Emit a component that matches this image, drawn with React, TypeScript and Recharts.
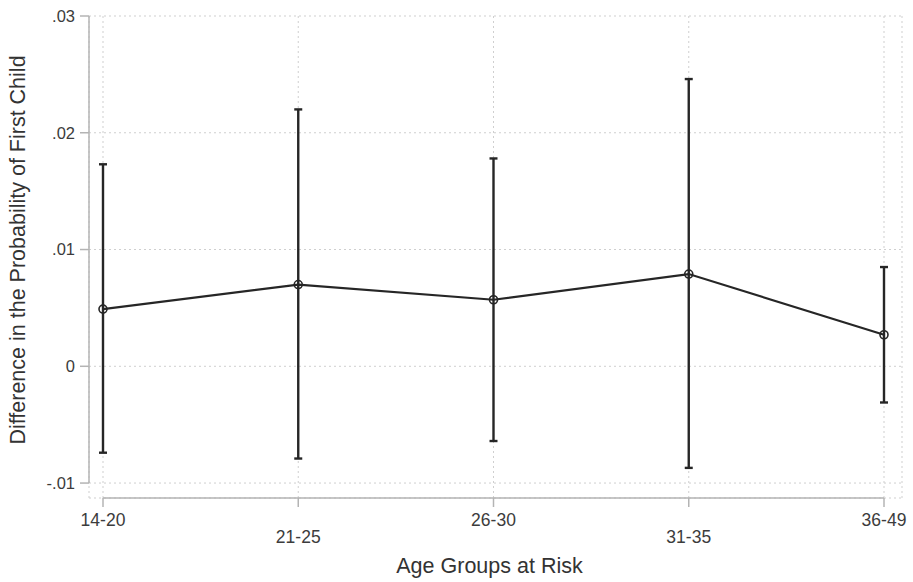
import React from 'react';
import { ComposedChart, Line, ErrorBar, XAxis, YAxis, CartesianGrid } from 'recharts';

const ageGroups = ['14-20', '21-25', '26-30', '31-35', '36-49'];
const estimates = [0.0049, 0.007, 0.0057, 0.0079, 0.0027];
const lowerBounds = [-0.0074, -0.0079, -0.0064, -0.0087, -0.0031];
const upperBounds = [0.0173, 0.022, 0.0178, 0.0246, 0.0085];
const yTicks = [-0.01, 0, 0.01, 0.02, 0.03];
const yTickLabels = ['-.01', '0', '.01', '.02', '.03'];

const data = ageGroups.map((group, i) => ({
  group,
  estimate: estimates[i],
  ci: [estimates[i] - lowerBounds[i], upperBounds[i] - estimates[i]],
}));

const FONT = '"Liberation Sans", Arial, sans-serif';
const AXIS_GRAY = '#b4b4b4';
const INK = '#262626';

function StaggeredTick(props: any) {
  const { x, y, payload, index } = props;
  const shift = index % 2 === 1 ? 17 : 0;
  return (
    <text x={x} y={y + shift} dy="0.71em" textAnchor="middle" fontSize={17.5} fill="#3c3c3c" fontFamily={FONT}>
      {payload.value}
    </text>
  );
}

export default function App() {
  return (
    <div style={{ position: 'absolute', left: 0, top: 0, width: 913, height: 582, background: '#fff' }}>
      <ComposedChart width={913} height={582} data={data} margin={{ top: 16, right: 11, bottom: 0, left: 0 }}>
        <CartesianGrid stroke="#cfcfcf" strokeDasharray="2 3" />
        <XAxis
          dataKey="group"
          scale="point"
          padding={{ left: 14, right: 18 }}
          height={84}
          axisLine={{ stroke: AXIS_GRAY, strokeWidth: 1.5, strokeDasharray: '0 14 781 200' }}
          tickLine={{ stroke: AXIS_GRAY, strokeWidth: 1.5 }}
          tickSize={9}
          tickMargin={7}
          interval={0}
          tick={<StaggeredTick />}
          label={{
            content: (p: any) => {
              const vb = p.viewBox;
              return (
                <text x={vb.x + vb.width / 2 - 6} y={vb.y + 75} textAnchor="middle" fontSize={21.5} fill="#333" fontFamily={FONT}>
                  Age Groups at Risk
                </text>
              );
            },
          }}
        />
        <YAxis
          type="number"
          domain={[-0.01128, 0.03]}
          ticks={yTicks}
          width={89}
          axisLine={{ stroke: AXIS_GRAY, strokeWidth: 1.5, strokeDasharray: '467 200' }}
          tickLine={{ stroke: AXIS_GRAY, strokeWidth: 1.5 }}
          tickSize={9}
          tickMargin={5}
          tickFormatter={(v: number) => yTickLabels[yTicks.indexOf(v)] ?? String(v)}
          tick={{ fontSize: 16.5, fill: '#3c3c3c', fontFamily: FONT }}
          label={{
            content: (p: any) => {
              const vb = p.viewBox;
              const cx = 25;
              const cy = vb.y + vb.height / 2 - 7;
              return (
                <text x={cx} y={cy} transform={`rotate(-90 ${cx} ${cy})`} textAnchor="middle" fontSize={21.5} fill="#333" fontFamily={FONT}>
                  Difference in the Probability of First Child
                </text>
              );
            },
          }}
        />
        <Line
          type="linear"
          dataKey="estimate"
          stroke={INK}
          strokeWidth={2.2}
          dot={{ r: 4, fill: 'none', stroke: INK, strokeWidth: 1.6 }}
          activeDot={false}
          isAnimationActive={false}
        >
          <ErrorBar dataKey="ci" direction="y" width={4} stroke={INK} strokeWidth={2.4} />
        </Line>
      </ComposedChart>
    </div>
  );
}
